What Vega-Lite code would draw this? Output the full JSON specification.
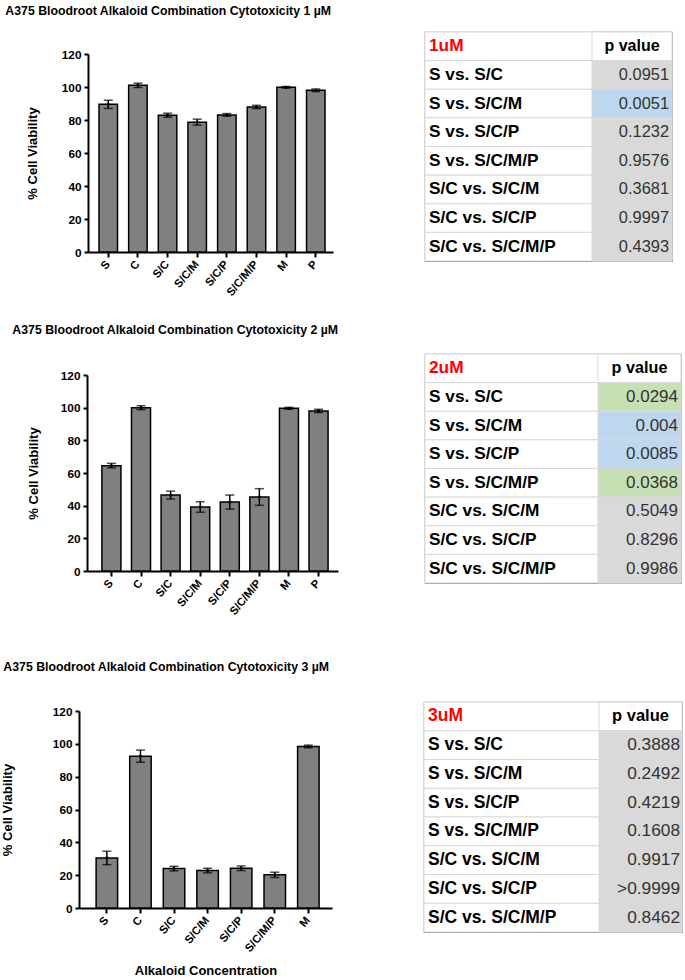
{
  "$schema": "https://vega.github.io/schema/vega-lite/v6.json",
  "autosize": {"type": "pad"},
  "padding": {"left": 1, "top": 4, "right": 0, "bottom": 0},
  "background": "white",
  "config": {
    "font": "Liberation Sans",
    "view": {"stroke": null},
    "axis": {"labelFont": "Liberation Sans", "titleFont": "Liberation Sans"},
    "title": {"font": "Liberation Sans"}
  },
  "datasets": {
    "viability": [
      {"conc": "1 µM", "agent": "S", "viability": 89.5, "sem": 2.5},
      {"conc": "1 µM", "agent": "C", "viability": 101.0, "sem": 1.3},
      {"conc": "1 µM", "agent": "S/C", "viability": 82.9, "sem": 1.2},
      {"conc": "1 µM", "agent": "S/C/M", "viability": 78.7, "sem": 1.8},
      {"conc": "1 µM", "agent": "S/C/P", "viability": 83.1, "sem": 0.8},
      {"conc": "1 µM", "agent": "S/C/M/P", "viability": 87.9, "sem": 1.0},
      {"conc": "1 µM", "agent": "M", "viability": 99.8, "sem": 0.5},
      {"conc": "1 µM", "agent": "P", "viability": 98.0, "sem": 0.8},
      {"conc": "2 µM", "agent": "S", "viability": 64.5, "sem": 1.4},
      {"conc": "2 µM", "agent": "C", "viability": 100.0, "sem": 1.2},
      {"conc": "2 µM", "agent": "S/C", "viability": 46.5, "sem": 2.4},
      {"conc": "2 µM", "agent": "S/C/M", "viability": 39.2, "sem": 3.2},
      {"conc": "2 µM", "agent": "S/C/P", "viability": 42.2, "sem": 4.3},
      {"conc": "2 µM", "agent": "S/C/M/P", "viability": 45.3, "sem": 5.1},
      {"conc": "2 µM", "agent": "M", "viability": 99.6, "sem": 0.6},
      {"conc": "2 µM", "agent": "P", "viability": 98.0, "sem": 1.0},
      {"conc": "3 µM", "agent": "S", "viability": 30.5, "sem": 4.1},
      {"conc": "3 µM", "agent": "C", "viability": 92.5, "sem": 3.7},
      {"conc": "3 µM", "agent": "S/C", "viability": 24.0, "sem": 1.4},
      {"conc": "3 µM", "agent": "S/C/M", "viability": 22.8, "sem": 1.4},
      {"conc": "3 µM", "agent": "S/C/P", "viability": 24.2, "sem": 1.4},
      {"conc": "3 µM", "agent": "S/C/M/P", "viability": 20.2, "sem": 1.6},
      {"conc": "3 µM", "agent": "M", "viability": 98.4, "sem": 0.8}
    ],
    "pvals": [
      {"table": "1uM", "role": "header", "comparison": "1uM", "p": "p value", "sig": "header"},
      {"table": "1uM", "role": "body", "comparison": "S vs. S/C", "p": "0.0951", "sig": "ns"},
      {"table": "1uM", "role": "body", "comparison": "S vs. S/C/M", "p": "0.0051", "sig": "p<0.01"},
      {"table": "1uM", "role": "body", "comparison": "S vs. S/C/P", "p": "0.1232", "sig": "ns"},
      {"table": "1uM", "role": "body", "comparison": "S vs. S/C/M/P", "p": "0.9576", "sig": "ns"},
      {"table": "1uM", "role": "body", "comparison": "S/C vs. S/C/M", "p": "0.3681", "sig": "ns"},
      {"table": "1uM", "role": "body", "comparison": "S/C vs. S/C/P", "p": "0.9997", "sig": "ns"},
      {"table": "1uM", "role": "body", "comparison": "S/C vs. S/C/M/P", "p": "0.4393", "sig": "ns"},
      {"table": "2uM", "role": "header", "comparison": "2uM", "p": "p value", "sig": "header"},
      {"table": "2uM", "role": "body", "comparison": "S vs. S/C", "p": "0.0294", "sig": "p<0.05"},
      {"table": "2uM", "role": "body", "comparison": "S vs. S/C/M", "p": "0.004", "sig": "p<0.01"},
      {"table": "2uM", "role": "body", "comparison": "S vs. S/C/P", "p": "0.0085", "sig": "p<0.01"},
      {"table": "2uM", "role": "body", "comparison": "S vs. S/C/M/P", "p": "0.0368", "sig": "p<0.05"},
      {"table": "2uM", "role": "body", "comparison": "S/C vs. S/C/M", "p": "0.5049", "sig": "ns"},
      {"table": "2uM", "role": "body", "comparison": "S/C vs. S/C/P", "p": "0.8296", "sig": "ns"},
      {"table": "2uM", "role": "body", "comparison": "S/C vs. S/C/M/P", "p": "0.9986", "sig": "ns"},
      {"table": "3uM", "role": "header", "comparison": "3uM", "p": "p value", "sig": "header"},
      {"table": "3uM", "role": "body", "comparison": "S vs. S/C", "p": "0.3888", "sig": "ns"},
      {"table": "3uM", "role": "body", "comparison": "S vs. S/C/M", "p": "0.2492", "sig": "ns"},
      {"table": "3uM", "role": "body", "comparison": "S vs. S/C/P", "p": "0.4219", "sig": "ns"},
      {"table": "3uM", "role": "body", "comparison": "S vs. S/C/M/P", "p": "0.1608", "sig": "ns"},
      {"table": "3uM", "role": "body", "comparison": "S/C vs. S/C/M", "p": "0.9917", "sig": "ns"},
      {"table": "3uM", "role": "body", "comparison": "S/C vs. S/C/P", "p": ">0.9999", "sig": "ns"},
      {"table": "3uM", "role": "body", "comparison": "S/C vs. S/C/M/P", "p": "0.8462", "sig": "ns"}
    ]
  },
  "vconcat": [
    {
      "vconcat": [
        {
          "hconcat": [
            {
              "width": 254, "height": 220,
              "data": {"name": "viability"},
              "transform": [{"filter": "datum.conc === '1 µM'"}],
              "title": {"text": "A375 Bloodroot Alkaloid Combination Cytotoxicity 1 µM", "anchor": "start", "frame": "bounds", "dx": -21, "offset": 5, "baseline": "alphabetic", "fontSize": 12.3, "fontWeight": "bold", "color": "#000000"},
              "encoding": {
                "x": {"field": "agent", "type": "nominal", "sort": null,
                  "scale": {"type": "band", "range": [9, 254], "paddingInner": 0.376, "paddingOuter": 0.32, "align": 0.58},
                  "axis": {"title": null, "labelAngle": -50, "labelFontSize": 11.3, "labelFontWeight": "bold", "labelColor": "#000000", "domainColor": "#000000", "domainWidth": 2, "tickColor": "#000000", "tickWidth": 2, "tickSize": 5, "labelPadding": 5}},
                "y": {"field": "viability", "type": "quantitative",
                  "scale": {"domain": [0, 120], "range": [220, 22], "nice": false},
                  "axis": {"values": [0, 20, 40, 60, 80, 100, 120], "title": "% Cell Viability", "grid": false, "offset": -9, "domainColor": "#000000", "domainWidth": 2, "tickColor": "#000000", "tickWidth": 2, "tickSize": 4, "labelFontSize": 11.8, "labelFontWeight": "bold", "labelColor": "#000000", "labelPadding": 3, "titleFontSize": 13, "titleFontWeight": "bold", "titleColor": "#000000", "titlePadding": 22}}
              },
              "layer": [
                {"mark": {"type": "bar", "fill": "#808080", "stroke": "#000000", "strokeWidth": 1.5}},
                {"mark": {"type": "errorbar", "ticks": {"size": 9, "thickness": 1.5, "color": "#000000"}, "thickness": 1.5, "color": "#000000"}, "encoding": {"yError": {"field": "sem"}}},
                {"mark": {"type": "point", "filled": true, "color": "#000000", "size": 10, "opacity": 1}}
              ]
            },
            {
              "width": 247, "height": 229,
              "view": {"stroke": "#808080", "strokeWidth": 1.2},
              "data": {"name": "pvals"},
              "transform": [{"filter": "datum.table === '1uM'"}],
              "encoding": {"y": {"field": "comparison", "type": "nominal", "sort": null, "scale": {"type": "band", "paddingInner": 0, "paddingOuter": 0}, "axis": null}},
              "layer": [
                {"mark": {"type": "rect", "fill": "#ffffff", "stroke": "#d9d9d9", "strokeWidth": 1}},
                {"mark": {"type": "rect", "stroke": "#d9d9d9", "strokeWidth": 1},
                 "encoding": {"x": {"datum": "v", "type": "nominal", "scale": {"type": "band", "domain": ["v"], "range": [167, 247], "paddingInner": 0, "paddingOuter": 0}, "axis": null},
                   "fill": {"field": "sig", "type": "nominal", "scale": {"domain": ["header", "ns", "p<0.05", "p<0.01"], "range": ["#ffffff", "#d9d9d9", "#c6e0b4", "#bdd7ee"]}, "legend": null}}},
                {"mark": {"type": "text", "align": "left", "baseline": "middle", "fontWeight": "bold", "fontSize": 17.3, "x": 4},
                 "encoding": {"text": {"field": "comparison"}, "color": {"condition": {"test": "datum.role === 'header'", "value": "#ff0000"}, "value": "#000000"}}},
                {"transform": [{"filter": "datum.role === 'body'"}],
                 "mark": {"type": "text", "align": "right", "baseline": "middle", "fontSize": 16.4, "dx": -3, "color": "#333333"},
                 "encoding": {"x": {"datum": "v", "type": "nominal", "bandPosition": 1}, "text": {"field": "p"}}},
                {"transform": [{"filter": "datum.role === 'header'"}],
                 "mark": {"type": "text", "align": "center", "baseline": "middle", "fontSize": 16, "fontWeight": "bold", "color": "#000000"},
                 "encoding": {"x": {"datum": "v", "type": "nominal", "bandPosition": 0.5}, "text": {"field": "p"}}}
              ]
            }
          ],
          "spacing": 90,
          "resolve": {"scale": {"x": "independent", "y": "independent", "fill": "independent"}}
        },
        {
          "hconcat": [
            {
              "width": 259, "height": 217,
              "data": {"name": "viability"},
              "transform": [{"filter": "datum.conc === '2 µM'"}],
              "title": {"text": "A375 Bloodroot Alkaloid Combination Cytotoxicity 2 µM", "anchor": "start", "frame": "bounds", "dx": -15, "offset": 8, "baseline": "alphabetic", "fontSize": 12.3, "fontWeight": "bold", "color": "#000000"},
              "encoding": {
                "x": {"field": "agent", "type": "nominal", "sort": null,
                  "scale": {"type": "band", "range": [8, 259], "paddingInner": 0.357, "paddingOuter": 0.42, "align": 0.6},
                  "axis": {"title": null, "labelAngle": -50, "labelFontSize": 11.3, "labelFontWeight": "bold", "labelColor": "#000000", "domainColor": "#000000", "domainWidth": 2, "tickColor": "#000000", "tickWidth": 2, "tickSize": 5, "labelPadding": 5}},
                "y": {"field": "viability", "type": "quantitative",
                  "scale": {"domain": [0, 120], "range": [217, 21], "nice": false},
                  "axis": {"values": [0, 20, 40, 60, 80, 100, 120], "title": "% Cell Viability", "grid": false, "offset": -8, "domainColor": "#000000", "domainWidth": 2, "tickColor": "#000000", "tickWidth": 2, "tickSize": 4, "labelFontSize": 11.8, "labelFontWeight": "bold", "labelColor": "#000000", "labelPadding": 3, "titleFontSize": 13, "titleFontWeight": "bold", "titleColor": "#000000", "titlePadding": 20}}
              },
              "layer": [
                {"mark": {"type": "bar", "fill": "#808080", "stroke": "#000000", "strokeWidth": 1.5}},
                {"mark": {"type": "errorbar", "ticks": {"size": 9, "thickness": 1.5, "color": "#000000"}, "thickness": 1.5, "color": "#000000"}, "encoding": {"yError": {"field": "sem"}}},
                {"mark": {"type": "point", "filled": true, "color": "#000000", "size": 10, "opacity": 1}}
              ]
            },
            {
              "width": 256, "height": 229,
              "view": {"stroke": "#808080", "strokeWidth": 1.2},
              "data": {"name": "pvals"},
              "transform": [{"filter": "datum.table === '2uM'"}],
              "encoding": {"y": {"field": "comparison", "type": "nominal", "sort": null, "scale": {"type": "band", "paddingInner": 0, "paddingOuter": 0}, "axis": null}},
              "layer": [
                {"mark": {"type": "rect", "fill": "#ffffff", "stroke": "#d9d9d9", "strokeWidth": 1}},
                {"mark": {"type": "rect", "stroke": "#d9d9d9", "strokeWidth": 1},
                 "encoding": {"x": {"datum": "v", "type": "nominal", "scale": {"type": "band", "domain": ["v"], "range": [173, 256], "paddingInner": 0, "paddingOuter": 0}, "axis": null},
                   "fill": {"field": "sig", "type": "nominal", "scale": {"domain": ["header", "ns", "p<0.05", "p<0.01"], "range": ["#ffffff", "#d9d9d9", "#c6e0b4", "#bdd7ee"]}, "legend": null}}},
                {"mark": {"type": "text", "align": "left", "baseline": "middle", "fontWeight": "bold", "fontSize": 17.3, "x": 4},
                 "encoding": {"text": {"field": "comparison"}, "color": {"condition": {"test": "datum.role === 'header'", "value": "#ff0000"}, "value": "#000000"}}},
                {"transform": [{"filter": "datum.role === 'body'"}],
                 "mark": {"type": "text", "align": "right", "baseline": "middle", "fontSize": 17, "dx": -3, "color": "#333333"},
                 "encoding": {"x": {"datum": "v", "type": "nominal", "bandPosition": 1}, "text": {"field": "p"}}},
                {"transform": [{"filter": "datum.role === 'header'"}],
                 "mark": {"type": "text", "align": "center", "baseline": "middle", "fontSize": 16.2, "fontWeight": "bold", "color": "#000000"},
                 "encoding": {"x": {"datum": "v", "type": "nominal", "bandPosition": 0.5}, "text": {"field": "p"}}}
              ]
            }
          ],
          "spacing": 84,
          "resolve": {"scale": {"x": "independent", "y": "independent", "fill": "independent"}}
        }
      ],
      "spacing": 25,
      "resolve": {"scale": {"x": "independent", "y": "independent", "fill": "independent"}}
    },
    {
      "hconcat": [
        {
          "width": 253, "height": 206,
          "data": {"name": "viability"},
          "transform": [{"filter": "datum.conc === '3 µM'"}],
          "title": {"text": "A375 Bloodroot Alkaloid Combination Cytotoxicity 3 µM", "anchor": "start", "frame": "bounds", "dx": 2, "offset": 19, "baseline": "alphabetic", "fontSize": 12.3, "fontWeight": "bold", "color": "#000000"},
          "encoding": {
            "x": {"field": "agent", "type": "nominal", "sort": null,
              "scale": {"type": "band", "range": [0, 253], "paddingInner": 0.36, "paddingOuter": 0.447, "align": 0.57},
              "axis": {"title": "Alkaloid Concentration", "titleFontSize": 13, "titleFontWeight": "bold", "titleColor": "#000000", "titlePadding": 11, "labelAngle": -50, "labelFontSize": 11.3, "labelFontWeight": "bold", "labelColor": "#000000", "domainColor": "#000000", "domainWidth": 2, "tickColor": "#000000", "tickWidth": 2, "tickSize": 5, "labelPadding": 5}},
            "y": {"field": "viability", "type": "quantitative",
              "scale": {"domain": [0, 120], "range": [206, 9], "nice": false},
              "axis": {"values": [0, 20, 40, 60, 80, 100, 120], "title": "% Cell Viability", "grid": false, "domainColor": "#000000", "domainWidth": 2, "tickColor": "#000000", "tickWidth": 2, "tickSize": 4, "labelFontSize": 11.8, "labelFontWeight": "bold", "labelColor": "#000000", "labelPadding": 3, "titleFontSize": 13, "titleFontWeight": "bold", "titleColor": "#000000", "titlePadding": 38}}
          },
          "layer": [
            {"mark": {"type": "bar", "fill": "#808080", "stroke": "#000000", "strokeWidth": 1.5}},
            {"mark": {"type": "errorbar", "ticks": {"size": 9, "thickness": 1.5, "color": "#000000"}, "thickness": 1.5, "color": "#000000"}, "encoding": {"yError": {"field": "sem"}}},
            {"mark": {"type": "point", "filled": true, "color": "#000000", "size": 10, "opacity": 1}}
          ]
        },
        {
          "width": 258, "height": 230,
          "view": {"stroke": "#808080", "strokeWidth": 1.2},
          "data": {"name": "pvals"},
          "transform": [{"filter": "datum.table === '3uM'"}],
          "encoding": {"y": {"field": "comparison", "type": "nominal", "sort": null, "scale": {"type": "band", "paddingInner": 0, "paddingOuter": 0}, "axis": null}},
          "layer": [
            {"mark": {"type": "rect", "fill": "#ffffff", "stroke": "#d9d9d9", "strokeWidth": 1}},
            {"mark": {"type": "rect", "stroke": "#d9d9d9", "strokeWidth": 1},
             "encoding": {"x": {"datum": "v", "type": "nominal", "scale": {"type": "band", "domain": ["v"], "range": [175, 258], "paddingInner": 0, "paddingOuter": 0}, "axis": null},
               "fill": {"field": "sig", "type": "nominal", "scale": {"domain": ["header", "ns", "p<0.05", "p<0.01"], "range": ["#ffffff", "#d9d9d9", "#c6e0b4", "#bdd7ee"]}, "legend": null}}},
            {"mark": {"type": "text", "align": "left", "baseline": "middle", "fontWeight": "bold", "fontSize": 17.5, "x": 4},
             "encoding": {"text": {"field": "comparison"}, "color": {"condition": {"test": "datum.role === 'header'", "value": "#ff0000"}, "value": "#000000"}}},
            {"transform": [{"filter": "datum.role === 'body'"}],
             "mark": {"type": "text", "align": "right", "baseline": "middle", "fontSize": 17.3, "dx": -2, "color": "#333333"},
             "encoding": {"x": {"datum": "v", "type": "nominal", "bandPosition": 1}, "text": {"field": "p"}}},
            {"transform": [{"filter": "datum.role === 'header'"}],
             "mark": {"type": "text", "align": "center", "baseline": "middle", "fontSize": 16.5, "fontWeight": "bold", "color": "#000000"},
             "encoding": {"x": {"datum": "v", "type": "nominal", "bandPosition": 0.5}, "text": {"field": "p"}}}
          ]
        }
      ],
      "spacing": 90,
      "resolve": {"scale": {"x": "independent", "y": "independent", "fill": "independent"}}
    }
  ],
  "spacing": 43,
  "resolve": {"scale": {"x": "independent", "y": "independent", "fill": "independent"}}
}
